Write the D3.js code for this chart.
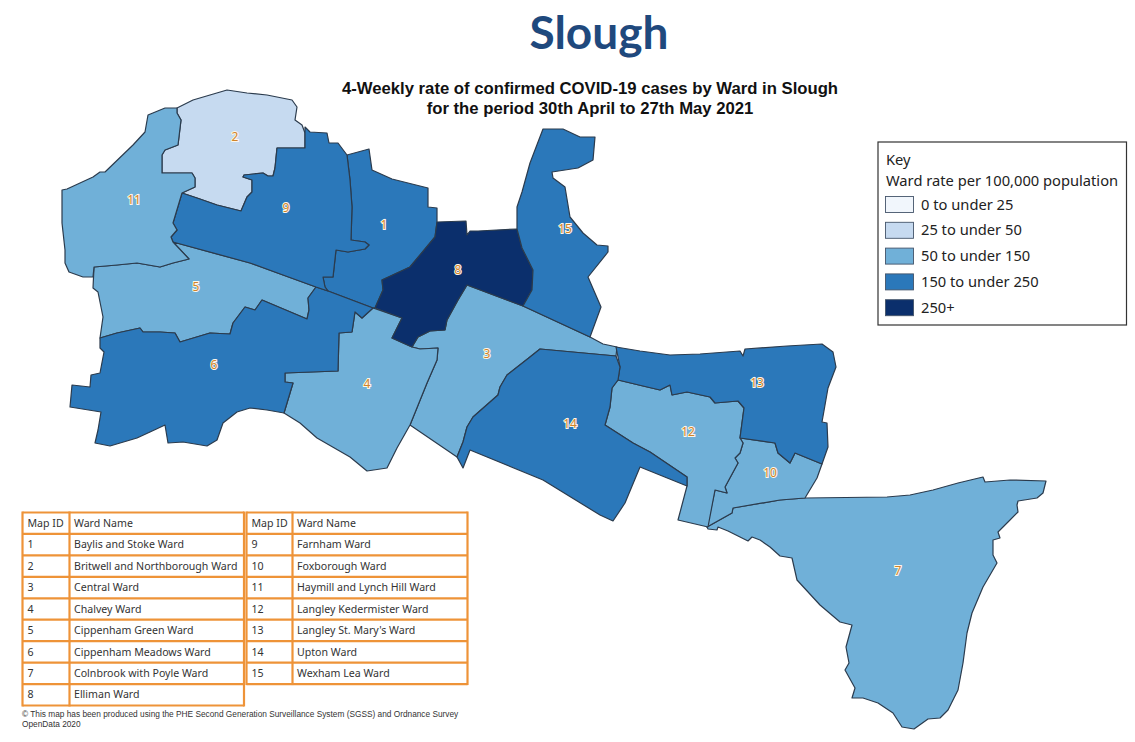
<!DOCTYPE html>
<html>
<head>
<meta charset="utf-8">
<script src="https://cdn.jsdelivr.net/npm/d3@7"></script>
<style>
  html, body { margin: 0; background: #fff; }
  svg { display: block; }
</style>
</head>
<body>
<div id="chart"></div>
<script>
// key bands
var bands = ["0 to under 25", "25 to under 50", "50 to under 150", "150 to under 250", "250+"];
var bandColours = ["#f1f6fc", "#c6daf0", "#70b0d8", "#2b78ba", "#0b2f6c"];

// ward table, in map id order
var wardIds = [1, 2, 3, 4, 5, 6, 7, 8, 9, 10, 11, 12, 13, 14, 15];
var wardNames = ["Baylis and Stoke Ward", "Britwell and Northborough Ward", "Central Ward", "Chalvey Ward",
  "Cippenham Green Ward", "Cippenham Meadows Ward", "Colnbrook with Poyle Ward", "Elliman Ward",
  "Farnham Ward", "Foxborough Ward", "Haymill and Lynch Hill Ward", "Langley Kedermister Ward",
  "Langley St. Mary's Ward", "Upton Ward", "Wexham Lea Ward"];
var wardBands = ["150 to under 250", "25 to under 50", "50 to under 150", "50 to under 150", "50 to under 150",
  "150 to under 250", "50 to under 150", "250+", "150 to under 250", "50 to under 150",
  "50 to under 150", "50 to under 150", "150 to under 250", "150 to under 250", "150 to under 250"];

// ward outlines, in map units
var wardOutlines = [
  [[347,155],[369,149],[372,170],[392,179],[428,188],[428,207],[437,208],[437,222],[435,237],[410,267],[382,280],[383,290],[375,308],[373,308],[328,291],[325,287],[323,277],[333,277],[336,250],[348,252],[365,249],[369,245],[365,242],[351,240],[352,207],[350,180]],
  [[177,108],[193,100],[210,95],[227,90],[247,93],[267,95],[292,100],[297,107],[295,120],[302,125],[305,133],[305,148],[277,148],[275,168],[273,176],[268,176],[263,173],[244,175],[243,177],[252,180],[252,192],[247,197],[241,211],[217,205],[197,198],[182,193],[195,187],[195,178],[192,173],[162,173],[162,155],[165,150],[178,145],[181,120],[177,113]],
  [[467,285],[523,306],[590,337],[603,344],[617,347],[616,356],[540,349],[530,357],[507,375],[500,387],[498,395],[473,417],[467,427],[463,442],[457,457],[410,425],[427,383],[437,360],[438,348],[420,349],[412,347],[418,337],[430,331],[445,330],[447,320],[458,300]],
  [[373,308],[402,318],[392,338],[412,347],[420,349],[438,348],[437,360],[427,383],[410,425],[397,448],[387,468],[367,471],[350,457],[317,438],[300,423],[284,413],[293,383],[285,382],[285,373],[338,371],[339,333],[352,332],[355,312],[362,318]],
  [[173,242],[250,263],[283,275],[316,287],[308,298],[309,310],[307,319],[262,300],[255,310],[245,307],[233,323],[230,334],[210,333],[180,342],[175,333],[160,332],[143,332],[140,328],[117,333],[100,338],[103,317],[98,292],[93,288],[94,267],[117,265],[137,263],[160,267],[173,263],[189,259]],
  [[100,338],[117,333],[140,328],[143,332],[160,332],[175,333],[180,342],[210,333],[230,334],[233,323],[245,307],[255,310],[262,300],[307,319],[309,310],[308,298],[316,287],[328,291],[373,308],[362,318],[355,312],[352,332],[339,333],[338,371],[285,373],[285,382],[293,383],[284,413],[267,410],[250,408],[237,412],[223,423],[217,440],[207,446],[183,442],[168,443],[165,425],[150,432],[137,438],[110,446],[95,443],[98,430],[101,412],[70,407],[72,385],[90,387],[91,375],[100,373],[104,352],[100,348]],
  [[707,527],[732,513],[733,508],[780,500],[805,498],[887,497],[910,495],[933,490],[958,483],[983,477],[985,482],[1010,480],[1046,481],[1043,493],[1037,498],[1018,501],[1017,505],[1018,512],[1008,522],[998,532],[1000,538],[993,540],[993,555],[997,563],[983,587],[972,613],[967,633],[963,663],[958,690],[948,710],[940,718],[928,719],[914,729],[902,727],[893,713],[878,703],[863,698],[852,698],[855,688],[845,670],[849,663],[846,647],[852,625],[840,622],[820,605],[797,580],[792,558],[780,556],[770,547],[760,540],[752,537],[748,541],[728,531],[718,527],[717,530],[708,529]],
  [[437,222],[466,221],[467,235],[470,231],[478,231],[517,229],[522,248],[533,270],[532,290],[523,306],[467,285],[458,300],[447,320],[445,330],[430,331],[418,337],[412,347],[392,338],[402,318],[375,308],[383,290],[382,280],[410,267],[435,237]],
  [[305,127],[310,132],[327,133],[329,143],[338,143],[347,155],[350,180],[352,207],[351,240],[365,242],[369,245],[365,249],[348,252],[336,250],[333,277],[323,277],[325,287],[328,291],[316,287],[283,275],[250,263],[173,242],[171,237],[177,230],[173,223],[182,193],[197,198],[217,205],[241,211],[247,197],[252,192],[252,180],[243,177],[244,175],[263,173],[268,176],[273,176],[275,168],[277,148],[305,148]],
  [[740,438],[775,443],[778,453],[790,463],[795,453],[822,464],[817,478],[805,498],[780,500],[733,508],[732,513],[707,527],[715,490],[727,493],[725,487],[738,463],[735,458],[740,453],[743,443]],
  [[177,108],[165,108],[148,115],[145,132],[133,145],[105,172],[100,172],[93,177],[67,189],[62,190],[62,223],[65,250],[65,263],[69,272],[83,277],[93,277],[94,267],[117,265],[137,263],[160,267],[173,263],[189,259],[173,242],[171,237],[177,230],[173,223],[182,193],[195,187],[195,178],[192,173],[162,173],[162,155],[165,150],[178,145],[181,120],[177,113]],
  [[618,380],[643,386],[660,390],[670,385],[672,395],[687,392],[710,397],[715,403],[738,401],[744,408],[740,438],[743,443],[740,453],[735,458],[738,463],[725,487],[727,493],[715,490],[708,527],[678,520],[687,486],[687,477],[650,452],[633,443],[605,425],[610,407],[612,388]],
  [[616,347],[640,351],[670,355],[700,354],[740,351],[743,356],[745,349],[787,346],[822,344],[833,352],[836,367],[828,388],[822,422],[827,423],[828,447],[822,464],[795,453],[790,463],[778,453],[775,443],[740,438],[744,408],[738,401],[715,403],[710,397],[687,392],[672,395],[670,385],[660,390],[643,386],[618,380],[620,367]],
  [[540,349],[616,356],[620,367],[618,380],[612,388],[610,407],[605,425],[633,443],[650,452],[687,477],[687,486],[640,467],[625,503],[613,521],[600,515],[543,480],[470,450],[463,468],[457,457],[463,442],[467,427],[473,417],[498,395],[500,387],[507,375],[530,357]],
  [[543,129],[563,129],[580,137],[595,137],[593,160],[578,168],[552,172],[553,178],[565,187],[570,217],[583,233],[597,245],[608,246],[608,252],[588,277],[601,307],[590,337],[523,306],[532,290],[533,270],[522,248],[517,229],[517,207],[522,192],[530,163]]
];
// where each ward number sits, in map units
var wardLabelPoints = [[384,225],[235,137],[487,354],[367,384],[196,287],[214,365],[898,571],[458,270],[286,208],[770,473],[134,200],[688,432],[757,383],[570,424],[565,229]];

var titleLines = ["4-Weekly rate of confirmed COVID-19 cases by Ward in Slough", "for the period 30th April to 27th May 2021"];
var creditLines = ["\u00a9 This map has been produced using the PHE Second Generation Surveillance System (SGSS) and Ordnance Survey", "OpenData 2020"];

var width = 1135, height = 742;
var bodyFont = "'Noto Sans', 'DejaVu Sans', sans-serif";

var svg = d3.select("#chart").append("svg")
  .attr("width", width)
  .attr("height", height);

svg.append("text")
  .attr("x", 599).attr("y", 49)
  .attr("text-anchor", "middle")
  .attr("font-family", "Lato, sans-serif")
  .attr("font-weight", 700)
  .attr("font-size", 46)
  .attr("fill", "#1f497d")
  .text("Slough");

svg.selectAll(".subtitle")
  .data(titleLines)
  .enter().append("text")
  .attr("class", "subtitle")
  .attr("x", 590)
  .attr("y", function(d, i) { return 94 + i * 20 })
  .attr("text-anchor", "middle")
  .attr("font-family", "'Liberation Sans', Arial, sans-serif")
  .attr("font-weight", 700)
  .attr("font-size", 16.7)
  .attr("fill", "#111")
  .text(function(d) { return d });

// map
var colour = d3.scaleOrdinal().domain(bands).range(bandColours);
var path = d3.geoPath(d3.geoIdentity());

var features = wardIds.map(function(id, i) {
  return {
    type: "Feature",
    properties: { id: id, name: wardNames[i], band: wardBands[i], label: wardLabelPoints[i] },
    geometry: { type: "Polygon", coordinates: [wardOutlines[i].concat([wardOutlines[i][0]])] }
  };
});

svg.append("g").selectAll(".ward")
  .data(features)
  .enter().append("path")
  .attr("class", "ward")
  .attr("d", path)
  .attr("fill", function(d) { return colour(d.properties.band) })
  .attr("stroke", "#2b3b4d")
  .attr("stroke-width", 1.2)
  .attr("stroke-linejoin", "round");

svg.append("g").selectAll(".ward-label")
  .data(features)
  .enter().append("text")
  .attr("class", "ward-label")
  .attr("x", function(d) { return d.properties.label[0] })
  .attr("y", function(d) { return d.properties.label[1] })
  .attr("text-anchor", "middle")
  .attr("dy", "0.35em")
  .attr("font-family", bodyFont)
  .attr("font-size", 12)
  .attr("fill", "#d0842a")
  .attr("stroke", "#fdf6ea")
  .attr("stroke-width", 2)
  .attr("paint-order", "stroke")
  .text(function(d) { return d.properties.id });

// key
var key = svg.append("g");
key.append("rect")
  .attr("x", 878).attr("y", 142)
  .attr("width", 248.5).attr("height", 183)
  .attr("fill", "#fff")
  .attr("stroke", "#333")
  .attr("stroke-width", 1.2);

key.selectAll(".key-head")
  .data(["Key", "Ward rate per 100,000 population"])
  .enter().append("text")
  .attr("class", "key-head")
  .attr("x", 886)
  .attr("y", function(d, i) { return 165 + i * 21 })
  .attr("font-family", bodyFont)
  .attr("font-size", 14.7)
  .attr("fill", "#222")
  .text(function(d) { return d });

var keyY = d3.scaleBand().domain(bands).range([192.5, 321.5]);

var keyRows = key.selectAll(".key-row")
  .data(bands)
  .enter().append("g")
  .attr("class", "key-row")
  .attr("transform", function(d) { return "translate(0," + keyY(d) + ")" });

keyRows.append("rect")
  .attr("x", 885.5).attr("y", 4)
  .attr("width", 28).attr("height", 16)
  .attr("fill", function(d) { return colour(d) })
  .attr("stroke", "#44546a")
  .attr("stroke-width", 0.9);

keyRows.append("text")
  .attr("x", 921).attr("y", 17)
  .attr("font-family", bodyFont)
  .attr("font-size", 14.7)
  .attr("fill", "#222")
  .text(function(d) { return d });

// ward table, two halves side by side
var tableY = d3.scaleBand().domain(d3.range(9)).range([512.5, 705.5]);
var orange = "#ee9338";
var tableParts = [
  { x: [22.5, 69.5, 244], rows: 8, from: 0 },
  { x: [246.5, 292.5, 467.5], rows: 7, from: 8 }
];

tableParts.forEach(function(part) {
  var g = svg.append("g");
  var bottom = tableY(part.rows) + tableY.bandwidth();

  g.selectAll(".hline")
    .data(d3.range(part.rows + 2))
    .enter().append("line")
    .attr("x1", part.x[0]).attr("x2", part.x[2])
    .attr("y1", function(d) { return tableY.range()[0] + d * tableY.step() })
    .attr("y2", function(d) { return tableY.range()[0] + d * tableY.step() })
    .attr("stroke", orange).attr("stroke-width", 2.2);

  g.selectAll(".vline")
    .data(part.x)
    .enter().append("line")
    .attr("x1", function(d) { return d }).attr("x2", function(d) { return d })
    .attr("y1", tableY.range()[0] - 1).attr("y2", bottom + 1)
    .attr("stroke", orange).attr("stroke-width", 2.2);

  var rows = [["Map ID", "Ward Name"]];
  d3.range(part.rows).forEach(function(i) {
    rows.push([wardIds[part.from + i], wardNames[part.from + i]]);
  });

  var row = g.selectAll(".row")
    .data(rows)
    .enter().append("g")
    .attr("transform", function(d, i) { return "translate(0," + (tableY(i) + tableY.bandwidth() / 2) + ")" });

  row.selectAll("text")
    .data(function(d) { return d })
    .enter().append("text")
    .attr("x", function(d, i) { return part.x[i] + (i === 0 ? 5 : 4.5) })
    .attr("dy", "0.35em")
    .attr("font-family", bodyFont)
    .attr("font-size", 10.6)
    .attr("fill", "#333")
    .text(function(d) { return d });
});

svg.selectAll(".credit")
  .data(creditLines)
  .enter().append("text")
  .attr("class", "credit")
  .attr("x", 22)
  .attr("y", function(d, i) { return 717 + i * 10 })
  .attr("font-family", "'Liberation Sans', Arial, sans-serif")
  .attr("font-size", 8.3)
  .attr("fill", "#333")
  .text(function(d) { return d });
</script>
</body>
</html>
